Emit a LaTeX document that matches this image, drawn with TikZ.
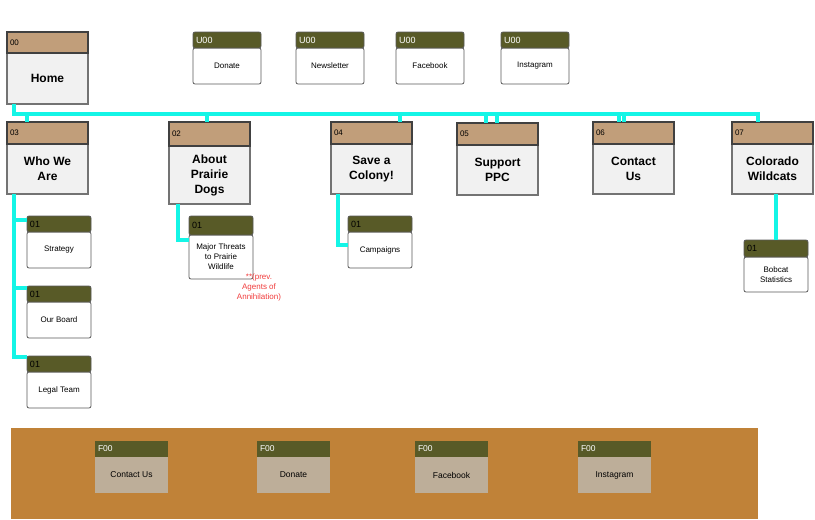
\documentclass[tikz,border=0pt]{standalone}
\usepackage{fontspec}
\setmainfont{Liberation Sans}
\usetikzlibrary{positioning}
\definecolor{tanhead}{HTML}{C19E7A}
\definecolor{pagegray}{HTML}{F1F1F1}
\definecolor{olive}{HTML}{585A27}
\definecolor{cyanline}{HTML}{14F5E6}
\definecolor{footer}{HTML}{C08238}
\definecolor{footbody}{HTML}{BDAE99}
\definecolor{notered}{HTML}{F03C3C}

\begin{document}
\begin{tikzpicture}[x=1pt, y=-1pt, node distance=0pt, outer sep=0pt,
  link/.style={draw=cyanline, line width=3.2pt}]
\tikzstyle{pagebody}=[draw=black!55, line width=1.1pt, fill=pagegray, minimum width=81pt, minimum height=50pt, anchor=north west, align=center, font=\fontsize{12}{15}\selectfont\bfseries]
\tikzstyle{pagehead}=[draw=black!75, line width=1.2pt, fill=tanhead, minimum height=22pt, text width=75pt, inner xsep=3pt, align=left, font=\fontsize{8}{9}\selectfont]
\tikzstyle{utilbody}=[draw=black!65, line width=0.8pt, fill=white, rounded corners=2pt, minimum width=68pt, minimum height=36pt, anchor=north west, align=center, font=\fontsize{8}{10}\selectfont]
\tikzstyle{utilhead}=[draw=black!65, line width=0.8pt, fill=olive, rounded corners=2pt, minimum height=16pt, text width=62pt, inner xsep=3pt, align=left, text=white, font=\fontsize{9}{10}\selectfont]
\tikzstyle{subbody}=[utilbody, minimum width=64pt]
\tikzstyle{subhead}=[utilhead, text width=58pt, text=black]
\tikzstyle{footbox}=[fill=footbody, minimum width=73pt, minimum height=36pt, anchor=north west, font=\fontsize{8.5}{10}\selectfont]
\tikzstyle{foothead}=[fill=olive, minimum height=16pt, text width=67pt, inner xsep=3pt, align=left, text=white, font=\fontsize{8.5}{10}\selectfont]
\tikzstyle{note}=[align=center, text=notered, font=\fontsize{8}{10}\selectfont]

\useasboundingbox (0,0) rectangle (815,520);

% home
\node (b00) [pagebody, minimum height=51pt] at (7,53) {Home};
\node (h00) [pagehead, above=of b00, minimum height=21pt] {00};

% utility
\node (bU1) [utilbody] at (193,48) {Donate};
\node (hU1) [utilhead, above=of bU1] {U00};
\node (bU2) [utilbody] at (296,48) {Newsletter};
\node (hU2) [utilhead, above=of bU2] {U00};
\node (bU3) [utilbody] at (396,48) {Facebook};
\node (hU3) [utilhead, above=of bU3] {U00};
\node (bU4) [utilbody] at (501,48) {Instagram};
\node (hU4) [utilhead, above=of bU4] {U00};

% main pages
\node (b03) [pagebody] at (7,144) {Who We\\Are};
\node (h03) [pagehead, above=of b03] {03};
\node (b02) [pagebody, minimum height=58pt] at (169,146) {About\\Prairie\\Dogs};
\node (h02) [pagehead, above=of b02, minimum height=24pt] {02};
\node (b04) [pagebody] at (331,144) {Save a\\Colony!};
\node (h04) [pagehead, above=of b04] {04};
\node (b05) [pagebody] at (457,145) {Support\\PPC};
\node (h05) [pagehead, above=of b05] {05};
\node (b06) [pagebody] at (593,144) {Contact\\Us};
\node (h06) [pagehead, above=of b06] {06};
\node (b07) [pagebody] at (732,144) {Colorado\\Wildcats};
\node (h07) [pagehead, above=of b07] {07};

% sub pages
\node (bS1) [subbody] at (27,232) {Strategy};
\node (hS1) [subhead, above=of bS1] {01};
\node (bS2) [subbody] at (27,302) {Our Board};
\node (hS2) [subhead, above=of bS2] {01};
\node (bS3) [subbody] at (27,372) {Legal Team};
\node (hS3) [subhead, above=of bS3] {01};
\node (bS4) [subbody, minimum height=44pt] at (189,235) {Major Threats\\to Prairie\\Wildlife};
\node (hS4) [subhead, above=of bS4, minimum height=19pt] {01};
\node (bS5) [subbody] at (348,232) {Campaigns};
\node (hS5) [subhead, above=of bS5] {01};
\node (bS6) [subbody, minimum height=35pt] at (744,257) {Bobcat\\Statistics};
\node (hS6) [subhead, above=of bS6, minimum height=17pt] {01};

\node (prev) [note] at (259,287) {**(prev.\\Agents of\\Annihilation)};

% footer
\node (foot) [fill=footer, minimum width=747pt, minimum height=91pt, anchor=north west] at (11,428) {};
\node (bF1) [footbox] at (95,457) {Contact Us};
\node (hF1) [foothead, above=of bF1] {F00};
\node (bF2) [footbox] at (257,457) {Donate};
\node (hF2) [foothead, above=of bF2] {F00};
\node (bF3) [footbox] at (415,457) {Facebook};
\node (hF3) [foothead, above=of bF3] {F00};
\node (bF4) [footbox] at (578,457) {Instagram};
\node (hF4) [foothead, above=of bF4] {F00};

% bus
\coordinate (bus) at (14,114);
\coordinate (d03) at ([xshift=20pt]h03.north west);
\coordinate (d02) at ([xshift=38pt]h02.north west);
\coordinate (d04) at ([xshift=69pt]h04.north west);
\coordinate (d05) at ([xshift=29pt]h05.north west);
\coordinate (d05b) at ([xshift=40pt]h05.north west);
\coordinate (d06) at ([xshift=26pt]h06.north west);
\coordinate (d06b) at ([xshift=31pt]h06.north west);
\coordinate (d07) at ([xshift=26pt]h07.north west);
\draw [link] ([xshift=7pt]b00.south west) -- (bus) -- (d07 |- bus) -- (d07);
\draw [link] (d03) |- (bus);
\draw [link] (d02) |- (bus);
\draw [link] (d04) |- (bus);
\draw [link] (d05) |- (bus);
\draw [link] (d05b) |- (bus);
\draw [link] (d06) |- (bus);
\draw [link] (d06b) |- (bus);

% children
\draw [link] ([xshift=7pt]b03.south west) |- ([yshift=-4pt]hS1.north west);
\draw [link] ([xshift=7pt]b03.south west) |- ([yshift=-2pt]hS2.north west);
\draw [link] ([xshift=7pt]b03.south west) |- ([yshift=-1pt]hS3.north west);
\draw [link] ([xshift=9pt]b02.south west) |- ([yshift=-5pt]bS4.north west);
\draw [link] ([xshift=7pt]b04.south west) |- ([yshift=-13pt]bS5.north west);
\draw [link] (hS6.north) -- (hS6.north |- b07.south);
\end{tikzpicture}
\end{document}
